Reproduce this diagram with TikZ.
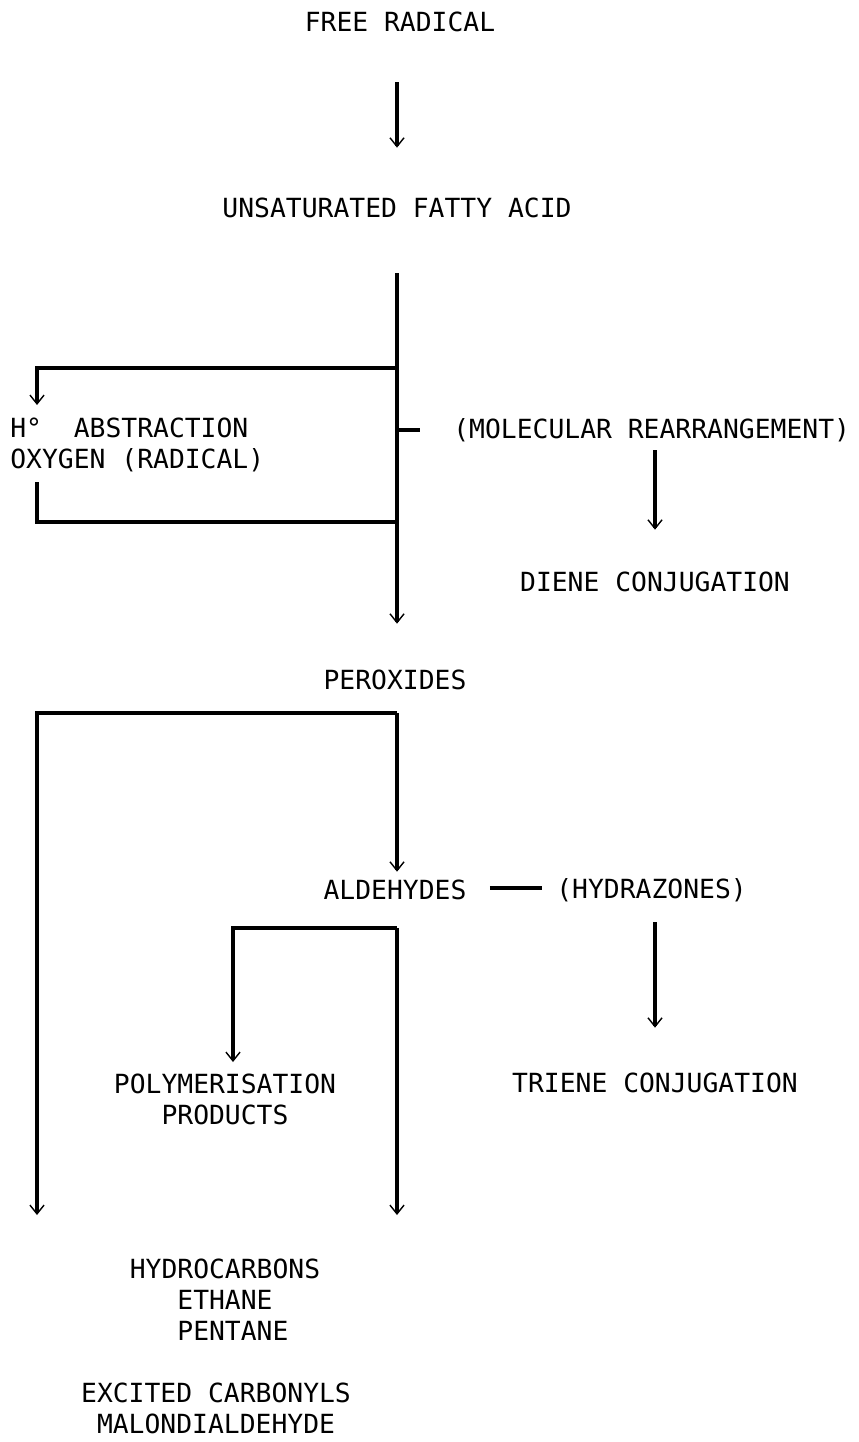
\documentclass[tikz,border=0pt]{standalone}
\usepackage{fontspec}
\newfontfamily\plotter{DejaVu Sans Mono}
\usetikzlibrary{arrows.meta,calc}

\begin{document}
\begin{tikzpicture}[
    x=0.02cm, y=-0.02cm,
    txt/.style={font={\plotter\fontsize{15pt}{17.6pt}\selectfont}, inner sep=0pt, align=center},
    line/.style={draw, line width=1.8pt},
    flow/.style={line, -{Straight Barb[length=5pt,width=8pt,line width=0.8pt]}}
]
\useasboundingbox (0,0) rectangle (858,1442);

% labels
\node [txt] (free) at (400,22) {FREE RADICAL};
\node [txt] (ufa) at (397,208) {UNSATURATED FATTY ACID};
\node [txt, align=left, anchor=west] (habs) at (10,445) {H°\ \ ABSTRACTION\\OXYGEN (RADICAL)};
\node [txt, anchor=west] (molre) at (453,430) {(MOLECULAR REARRANGEMENT)};
\node [txt] (diene) at (655,582) {DIENE CONJUGATION};
\node [txt] (perox) at (395,680) {PEROXIDES};
\node [txt] (ald) at (395,890) {ALDEHYDES};
\node [txt, anchor=west] (hydra) at (556,890) {(HYDRAZONES)};
\node [txt] (triene) at (655,1083) {TRIENE CONJUGATION};
\node [txt] (poly) at (225,1099) {POLYMERISATION\\PRODUCTS};
\node [txt, align=left] (hcarb) at (225,1300) {HYDROCARBONS\\\hphantom{HYD}ETHANE\\\hphantom{HYD}PENTANE};
\node [txt] (excit) at (216,1408) {EXCITED CARBONYLS\\MALONDIALDEHYDE};

% junctions and ends
\coordinate (spine) at (397,0);
\coordinate (abs top) at (397,368);
\coordinate (abs in) at (37,405);
\coordinate (abs out) at (37,482);
\coordinate (abs back) at (397,522);
\coordinate (mol tick) at (420,430);
\coordinate (per top) at (397,713);
\coordinate (hc end) at (37,1215);
\coordinate (ald top) at (397,928);
\coordinate (poly end) at (233,1062);
\coordinate (car end) at (397,1215);

% arrows
\path [flow] ($(spine |- free.south)+(0,50)$) -- ($(spine |- ufa.north)+(0,-50)$);
\path [flow] ($(spine |- ufa.south)+(0,55)$) -- ($(spine |- perox.north)+(0,-46)$);
\path [flow] (abs top) -| (abs in);
\path [line] (abs out) |- (abs back);
\path [line] (abs back |- molre) -- (mol tick);
\path [flow] ($(diene.north |- molre.south)+(0,8)$) -- ($(diene.north)+(0,-42)$);
\path [flow] (per top) -| (hc end);
\path [flow] (per top) -- ($(per top |- ald.north)+(0,-8)$);
\path [line] ($(ald.east)+(23,-2)$) -- ($(hydra.west)+(-14,-2)$);
\path [flow] ($(triene.north |- hydra.south)+(0,20)$) -- ($(triene.north)+(0,-45)$);
\path [flow] (ald top) -| (poly end);
\path [flow] (ald top) -- (car end);
\end{tikzpicture}
\end{document}
